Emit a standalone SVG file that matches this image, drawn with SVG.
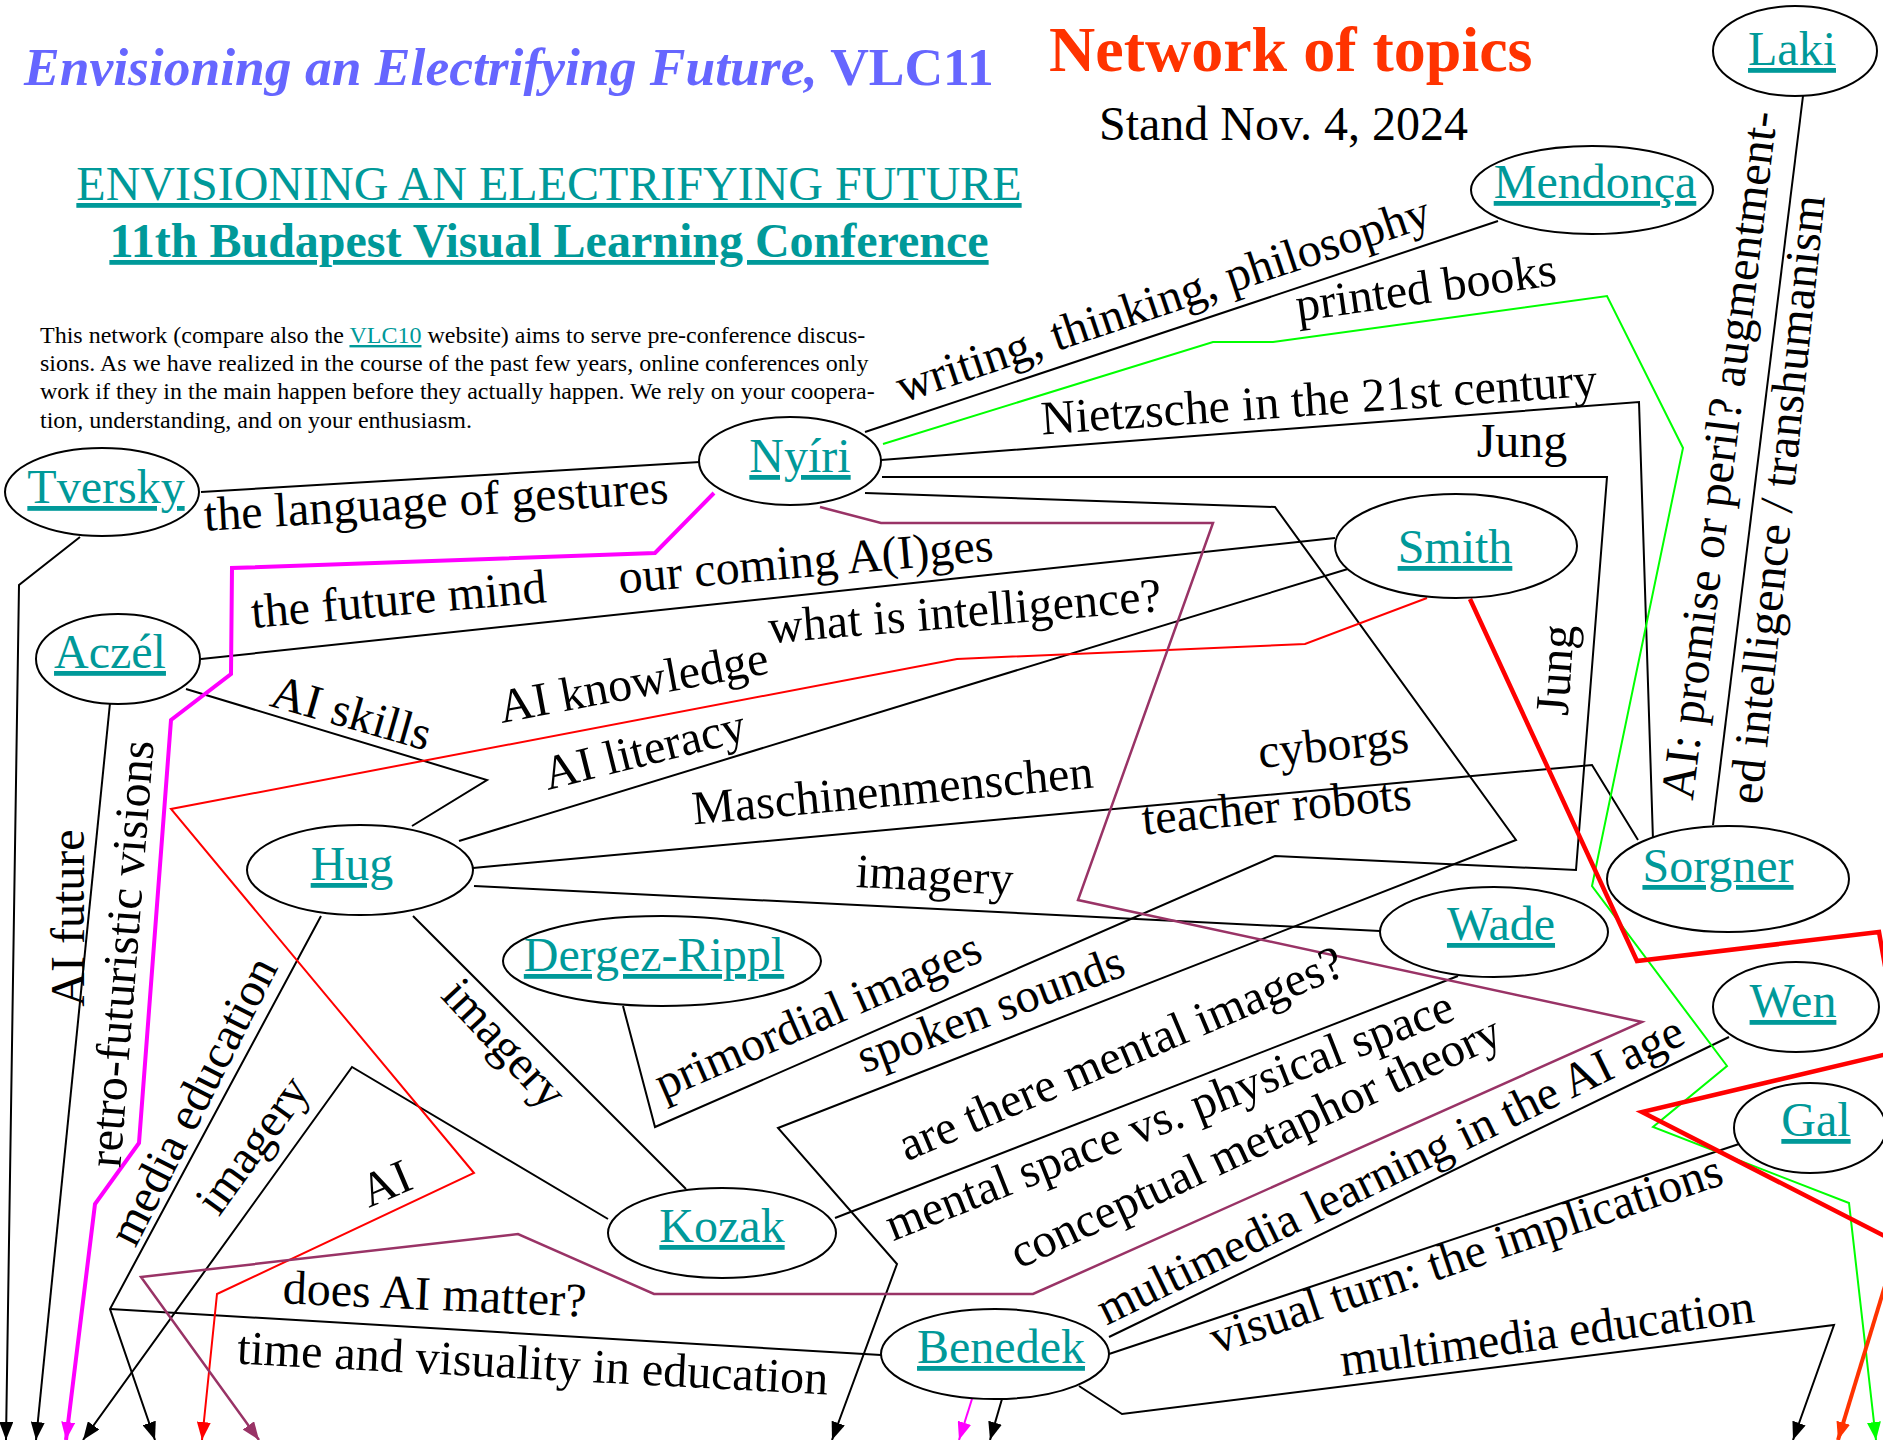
<svg xmlns="http://www.w3.org/2000/svg" width="1883" height="1440" viewBox="0 0 1883 1440">
<style>
text { font-family: "Liberation Serif", "Times New Roman", serif; }
.lbl { font-size: 48px; fill: #000; text-anchor: middle; }
.node ellipse { fill: #fff; stroke: #000; stroke-width: 2; }
.node text { font-size: 48px; fill: #009999; text-decoration: underline; text-anchor: middle; }
.e { fill: none; stroke: #000; stroke-width: 2; }
.mg { fill: none; stroke: #FF00FF; stroke-width: 4; }
.mg2 { fill: none; stroke: #FF00FF; stroke-width: 2; }
.rd { fill: none; stroke: #FF0000; stroke-width: 2; }
.rd2 { fill: none; stroke: #FF0000; stroke-width: 4.5; }
.or { fill: none; stroke: #FF3300; stroke-width: 4; }
.pu { fill: none; stroke: #993366; stroke-width: 2.5; }
.gr { fill: none; stroke: #00FF00; stroke-width: 2; }
.para { font-size: 24px; fill: #000; }
</style>
<defs>
<marker id="mk" viewBox="0 0 18 14" refX="18" refY="7" markerWidth="18" markerHeight="14" markerUnits="userSpaceOnUse" orient="auto"><path d="M0,0 L18,7 L0,14 z" fill="#000"/></marker>
<marker id="mm" viewBox="0 0 18 14" refX="18" refY="7" markerWidth="18" markerHeight="14" markerUnits="userSpaceOnUse" orient="auto"><path d="M0,0 L18,7 L0,14 z" fill="#FF00FF"/></marker>
<marker id="mr" viewBox="0 0 18 14" refX="18" refY="7" markerWidth="18" markerHeight="14" markerUnits="userSpaceOnUse" orient="auto"><path d="M0,0 L18,7 L0,14 z" fill="#FF0000"/></marker>
<marker id="mo" viewBox="0 0 18 14" refX="18" refY="7" markerWidth="18" markerHeight="14" markerUnits="userSpaceOnUse" orient="auto"><path d="M0,0 L18,7 L0,14 z" fill="#FF3300"/></marker>
<marker id="mp" viewBox="0 0 18 14" refX="18" refY="7" markerWidth="18" markerHeight="14" markerUnits="userSpaceOnUse" orient="auto"><path d="M0,0 L18,7 L0,14 z" fill="#993366"/></marker>
<marker id="mgr" viewBox="0 0 18 14" refX="18" refY="7" markerWidth="18" markerHeight="14" markerUnits="userSpaceOnUse" orient="auto"><path d="M0,0 L18,7 L0,14 z" fill="#00FF00"/></marker>
</defs>
<rect width="1883" height="1440" fill="#fff"/>

<g id="header">
<text x="24" y="85" font-size="53.5" font-weight="bold" fill="#6666FF"><tspan font-style="italic">Envisioning an Electrifying Future,</tspan> VLC11</text>
<text x="1049" y="71" font-size="64" font-weight="bold" fill="#FF3300">Network of topics</text>
<text x="1099" y="140" font-size="48" fill="#000">Stand Nov. 4, 2024</text>
<text x="549" y="200" font-size="48" fill="#009999" text-anchor="middle" text-decoration="underline">ENVISIONING AN ELECTRIFYING FUTURE</text>
<text x="549" y="257" font-size="48" font-weight="bold" fill="#009999" text-anchor="middle" text-decoration="underline">11th Budapest Visual Learning Conference</text>
<text class="para" x="40" y="343">This network (compare also the <tspan fill="#009999" text-decoration="underline">VLC10</tspan> website) aims to serve pre-conference discus-</text>
<text class="para" x="40" y="371">sions. As we have realized in the course of the past few years, online conferences only</text>
<text class="para" x="40" y="399">work if they in the main happen before they actually happen. We rely on your coopera-</text>
<text class="para" x="40" y="428">tion, understanding, and on your enthusiasm.</text>
</g>

<g id="connectors">
<path class="e" d="M865,432 L1498,221"/>
<path class="e" d="M201,492 L700,462"/>
<path class="e" d="M80,537 L19,585 L6,1440" marker-end="url(#mk)"/>
<path class="e" d="M110,703 L36,1440" marker-end="url(#mk)"/>
<path class="e" d="M201,659 L1335,538"/>
<path class="e" d="M186,689 L487,780 L412,826"/>
<path class="e" d="M1351,568 L459,841"/>
<path class="e" d="M881,460 L1639,402 L1653,840"/>
<path class="e" d="M623,1006 L655,1127 L1275,856 L1576,870 L1607,477 L882,477"/>
<path class="e" d="M865,493 L1275,507 L1516,840 L778,1128 L897,1264 L832,1440" marker-end="url(#mk)"/>
<path class="e" d="M473,868 L1592,765 L1638,840"/>
<path class="e" d="M474,886 L1380,931"/>
<path class="e" d="M321,916 L110,1309 L155,1440" marker-end="url(#mk)"/>
<path class="e" d="M881,1355 L110,1309"/>
<path class="e" d="M413,916 L686,1189"/>
<path class="e" d="M608,1219 L352,1067 L83,1440" marker-end="url(#mk)"/>
<path class="e" d="M835,1218 L1458,976"/>
<path class="e" d="M1109,1337 L1729,1037"/>
<path class="e" d="M1109,1354 L1742,1143"/>
<path class="e" d="M1079,1386 L1122,1414 L1834,1325 L1793,1440" marker-end="url(#mk)"/>
<path class="e" d="M1002,1399 L990,1440" marker-end="url(#mk)"/>
<path class="e" d="M1803,96 L1713,825"/>
<path class="mg" d="M714,493 L655,553 L232,568 L231,674 L171,720 L139,1143 L95,1204 L66,1440" marker-end="url(#mm)"/>
<path class="mg2" d="M972,1399 L959,1440" marker-end="url(#mm)"/>
<path class="rd" d="M1427,598 L1305,644 L957,659 L171,809 L474,1173 L217,1294 L202,1440" marker-end="url(#mr)"/>
<path class="pu" d="M820,507 L881,523 L1213,523 L1078,900 L1642,1022 L1033,1294 L654,1294 L518,1234 L141,1277 L259,1440" marker-end="url(#mp)"/>
<path class="gr" d="M883,444 L1213,342 L1273,342 L1607,296 L1683,448 L1592,886 L1727,1066 L1653,1127 L1849,1203 L1876,1440" marker-end="url(#mgr)"/>
<path class="rd2" d="M1470,599 L1637,961 L1879,932 L1900,1051 L1642,1112 L1898,1243"/>
<path class="or" d="M1898,1243 L1838,1440" marker-end="url(#mo)"/>
</g>

<g id="edge-labels">
<text class="lbl" transform="translate(1168,314) rotate(-18.5)">writing, thinking, philosophy</text>
<text class="lbl" transform="translate(1428,303) rotate(-8)">printed books</text>
<text class="lbl" transform="translate(1320,415) rotate(-4)">Nietzsche in the 21st century</text>
<text class="lbl" transform="translate(1522,457)">Jung</text>
<text class="lbl" transform="translate(1571,671) rotate(-86)">Jung</text>
<text class="lbl" transform="translate(437,517) rotate(-3.4)">the language of gestures</text>
<text class="lbl" transform="translate(400,615) rotate(-5)">the future mind</text>
<text class="lbl" transform="translate(807,577) rotate(-5)">our coming A(I)ges</text>
<text class="lbl" transform="translate(347,728) rotate(16)">AI skills</text>
<text class="lbl" transform="translate(636,698) rotate(-10.5)">AI knowledge</text>
<text class="lbl" transform="translate(966,627) rotate(-4.7)">what is intelligence?</text>
<text class="lbl" transform="translate(648,765) rotate(-14)">AI literacy</text>
<text class="lbl" transform="translate(894,806) rotate(-5.3)">Maschinenmenschen</text>
<text class="lbl" transform="translate(1335,760) rotate(-6)">cyborgs</text>
<text class="lbl" transform="translate(1278,822) rotate(-5.4)">teacher robots</text>
<text class="lbl" transform="translate(934,891) rotate(3)">imagery</text>
<text class="lbl" transform="translate(493,1054) rotate(47)">imagery</text>
<text class="lbl" transform="translate(207,1108) rotate(-63)">media education</text>
<text class="lbl" transform="translate(265,1154) rotate(-54)">imagery</text>
<text class="lbl" transform="translate(392,1198) rotate(-23)">AI</text>
<text class="lbl" transform="translate(434,1310) rotate(2.5)">does AI matter?</text>
<text class="lbl" transform="translate(532,1379) rotate(3)">time and visuality in education</text>
<text class="lbl" transform="translate(84,918) rotate(-90)">AI future</text>
<text class="lbl" transform="translate(137,955) rotate(-85.5)">retro-futuristic visions</text>
<text class="lbl" transform="translate(824,1030) rotate(-23.5)">primordial images</text>
<text class="lbl" transform="translate(996,1024) rotate(-20.5)">spoken sounds</text>
<text class="lbl" transform="translate(1127,1068) rotate(-23)">are there mental images?</text>
<text class="lbl" transform="translate(1175,1130) rotate(-21.5)">mental space vs. physical space</text>
<text class="lbl" transform="translate(1262,1156) rotate(-25)">conceptual metaphor theory</text>
<text class="lbl" transform="translate(1397,1184) rotate(-26)">multimedia learning in the AI age</text>
<text class="lbl" transform="translate(1471,1269) rotate(-18.5)">visual turn: the implications</text>
<text class="lbl" transform="translate(1549,1349) rotate(-7.5)">multimedia education</text>
<text class="lbl" transform="translate(1735,457) rotate(-83)">AI: promise or peril? augmentment-</text>
<text class="lbl" transform="translate(1793,501) rotate(-84)">ed intelligence / transhumanism</text>
</g>

<g id="node-laki" class="node"><ellipse cx="1795" cy="51" rx="82" ry="45"/><text x="1792" y="65">Laki</text></g>
<g id="node-mendonca" class="node"><ellipse cx="1592" cy="190" rx="121" ry="44"/><text x="1595" y="198">Mendonça</text></g>
<g id="node-nyiri" class="node"><ellipse cx="790" cy="461" rx="91" ry="44"/><text x="800" y="472">Nyíri</text></g>
<g id="node-tversky" class="node"><ellipse cx="102" cy="492" rx="97" ry="44"/><text x="106" y="503">Tversky</text></g>
<g id="node-aczel" class="node"><ellipse cx="118" cy="659" rx="82" ry="45"/><text x="110" y="668">Aczél</text></g>
<g id="node-smith" class="node"><ellipse cx="1456" cy="546" rx="121" ry="52"/><text x="1455" y="563">Smith</text></g>
<g id="node-hug" class="node"><ellipse cx="360" cy="870" rx="113" ry="45"/><text x="352" y="880">Hug</text></g>
<g id="node-sorgner" class="node"><ellipse cx="1728" cy="879" rx="121" ry="53"/><text x="1718" y="882">Sorgner</text></g>
<g id="node-wade" class="node"><ellipse cx="1494" cy="932" rx="114" ry="45"/><text x="1501" y="940">Wade</text></g>
<g id="node-dergez-rippl" class="node"><ellipse cx="662" cy="961" rx="159" ry="45"/><text x="654" y="971">Dergez-Rippl</text></g>
<g id="node-wen" class="node"><ellipse cx="1796" cy="1007" rx="83" ry="45"/><text x="1793" y="1017">Wen</text></g>
<g id="node-gal" class="node"><ellipse cx="1810" cy="1128" rx="76" ry="45"/><text x="1816" y="1136">Gal</text></g>
<g id="node-kozak" class="node"><ellipse cx="722" cy="1233" rx="114" ry="45"/><text x="722" y="1242">Kozak</text></g>
<g id="node-benedek" class="node"><ellipse cx="995" cy="1354" rx="114" ry="45"/><text x="1001" y="1363">Benedek</text></g>
</svg>
